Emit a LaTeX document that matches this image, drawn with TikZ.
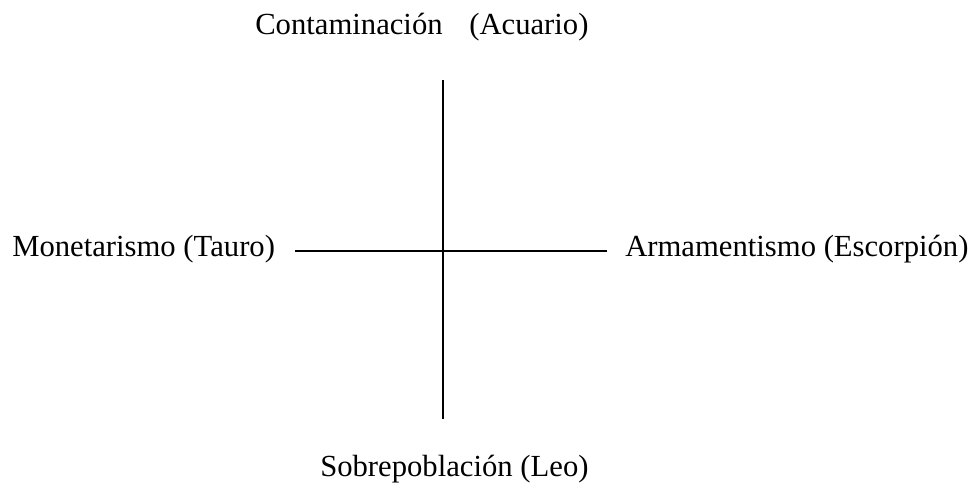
\documentclass[tikz,border=0pt]{standalone}
\usepackage{fontspec}
\setmainfont{Liberation Serif}
\usetikzlibrary{positioning}

\begin{document}
\begin{tikzpicture}[x=0.75pt, y=0.75pt,
    polo/.style={anchor=base west, inner sep=0pt, font=\fontsize{23}{27}\selectfont},
    eje/.style={line width=1pt}]
      \useasboundingbox (0,0) rectangle (980,484);
      % polos
      \node[polo] (acuario) at (255,449) {Contaminación\hspace{20pt}(Acuario)};
      \node[polo] (tauro) at (12,227) {Monetarismo (Tauro)};
      \node[polo] (escorpion) at (625,227) {Armamentismo (Escorpión)};
      \node[polo] (leo) at (320,7) {Sobrepoblación (Leo)};
      % ejes
      \coordinate (arriba) at (443,404);
      \coordinate (abajo) at (443,65);
      \coordinate (izq) at (295,233);
      \coordinate (der) at (607,233);
      \draw[eje] (arriba) -- (abajo);
      \draw[eje] (izq) -- (der);
    \end{tikzpicture}
\end{document}
